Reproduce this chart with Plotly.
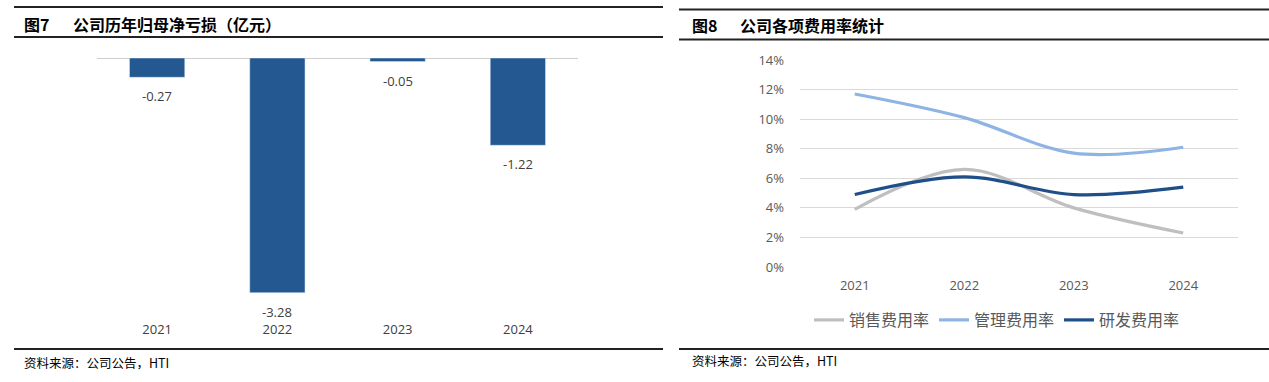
import plotly.graph_objects as go

W, H = 1269, 382

# ---- data ----
years = ["2021", "2022", "2023", "2024"]
net_loss = [-0.27, -3.28, -0.05, -1.22]
net_loss_labels = ["-0.27", "-3.28", "-0.05", "-1.22"]

sales_rate = [3.9, 6.6, 4.0, 2.3]
admin_rate = [11.7, 10.1, 7.7, 8.1]
rd_rate = [4.9, 6.1, 4.9, 5.4]
rate_ticks = [0, 2, 4, 6, 8, 10, 12, 14]
rate_tick_labels = ["0%", "2%", "4%", "6%", "8%", "10%", "12%", "14%"]

FONT = "Noto Sans CJK SC"
NUMFONT = "Open Sans"
def px(x):
    return x / W
def py(y):
    return 1 - y / H

fig = go.Figure()

# ---- left: bars ----
fig.add_trace(go.Bar(
    x=years, y=net_loss, marker_color="#245891", width=0.46,
    xaxis="x", yaxis="y", showlegend=False, hoverinfo="skip",
))

# ---- right: lines ----
fig.add_trace(go.Scatter(x=years, y=sales_rate, mode="lines", name="销售费用率",
                         line=dict(color="#BFBFBF", width=3.2, shape="spline", smoothing=1.0),
                         xaxis="x2", yaxis="y2"))
fig.add_trace(go.Scatter(x=years, y=admin_rate, mode="lines", name="管理费用率",
                         line=dict(color="#8EB4E3", width=3.2, shape="spline", smoothing=1.0),
                         xaxis="x2", yaxis="y2"))
fig.add_trace(go.Scatter(x=years, y=rd_rate, mode="lines", name="研发费用率",
                         line=dict(color="#1F4E89", width=3.2, shape="spline", smoothing=1.0),
                         xaxis="x2", yaxis="y2"))

# left axis geometry: zero at y=58 px, -3.28 at y=292.7 px
zero_px, bottom_px = 58, 313
scale = (292.7 - 58) / 3.28
ymin = -(bottom_px - zero_px) / scale

annotations = []
for i, (v, lab) in enumerate(zip(net_loss, net_loss_labels)):
    annotations.append(dict(x=i, y=v, xref="x", yref="y", text=lab, showarrow=False,
                            yanchor="top", yshift=-8,
                            font=dict(family=NUMFONT, size=13, color="#404040")))

# titles
annotations += [
    dict(x=px(22), y=py(24), xref="paper", yref="paper", xanchor="left", yanchor="middle",
         text="<b>图7</b>", showarrow=False, font=dict(family=FONT, size=16, color="#000000")),
    dict(x=px(71), y=py(24), xref="paper", yref="paper", xanchor="left", yanchor="middle",
         text="<b>公司历年归母净亏损（亿元）</b>", showarrow=False,
         font=dict(family=FONT, size=16, color="#000000")),
    dict(x=px(690), y=py(25), xref="paper", yref="paper", xanchor="left", yanchor="middle",
         text="<b>图8</b>", showarrow=False, font=dict(family=FONT, size=16, color="#000000")),
    dict(x=px(738), y=py(25), xref="paper", yref="paper", xanchor="left", yanchor="middle",
         text="<b>公司各项费用率统计</b>", showarrow=False,
         font=dict(family=FONT, size=16, color="#000000")),
    dict(x=px(22), y=py(362), xref="paper", yref="paper", xanchor="left", yanchor="middle",
         text="资料来源：公司公告，HTI", showarrow=False,
         font=dict(family=FONT, size=12.5, color="#000000")),
    dict(x=px(690), y=py(360), xref="paper", yref="paper", xanchor="left", yanchor="middle",
         text="资料来源：公司公告，HTI", showarrow=False,
         font=dict(family=FONT, size=12.5, color="#000000")),
]

line_black = dict(color="#222222", width=2)
shapes = [
    dict(type="line", xref="paper", yref="paper", x0=px(14), x1=px(663), y0=py(7), y1=py(7), line=line_black),
    dict(type="line", xref="paper", yref="paper", x0=px(14), x1=px(663), y0=py(37), y1=py(37), line=line_black),
    dict(type="line", xref="paper", yref="paper", x0=px(14), x1=px(663), y0=py(349), y1=py(349), line=line_black),
    dict(type="line", xref="paper", yref="paper", x0=px(679), x1=px(1269), y0=py(9.5), y1=py(9.5), line=line_black),
    dict(type="line", xref="paper", yref="paper", x0=px(679), x1=px(1269), y0=py(39.5), y1=py(39.5), line=line_black),
    dict(type="line", xref="paper", yref="paper", x0=px(679), x1=px(1269), y0=py(349), y1=py(349), line=line_black),
    # zero line of bar chart
    dict(type="line", xref="x domain", yref="y", x0=0, x1=1, y0=0, y1=0,
         line=dict(color="#BFBFBF", width=1.5), layer="below"),
]

fig.update_layout(
    width=W, height=H,
    margin=dict(l=0, r=0, t=0, b=0, pad=0, autoexpand=False),
    paper_bgcolor="white", plot_bgcolor="white",
    font=dict(family=FONT, color="#595959"),
    xaxis=dict(domain=[px(97), px(578)], type="category", range=[-0.5, 3.5],
               showgrid=False, showline=False, automargin=False,
               ticks="", tickfont=dict(family=NUMFONT, size=13, color="#404040"),
               anchor="y", fixedrange=True, ticklabelstandoff=7),
    yaxis=dict(domain=[py(bottom_px), py(zero_px)], range=[ymin, 0], visible=False,
               automargin=False, anchor="x", fixedrange=True),
    xaxis2=dict(domain=[px(800), px(1238)], type="category", showgrid=False, showline=False,
                ticks="", tickfont=dict(family=NUMFONT, size=13, color="#595959"),
                anchor="y2", range=[-0.5, 3.5], automargin=False, ticklabelstandoff=9),
    yaxis2=dict(domain=[py(267), py(60)], range=[0, 14], tickvals=rate_ticks,
                ticktext=rate_tick_labels, showgrid=True, gridcolor="#D9D9D9", gridwidth=1,
                zeroline=False, showline=False, ticks="", automargin=False,
                tickfont=dict(family=NUMFONT, size=13, color="#595959"),
                anchor="x2", ticklabelstandoff=15),
    legend=dict(orientation="h", x=px(997), xanchor="center", y=py(320), yanchor="middle",
                font=dict(family=FONT, size=16, color="#595959"), itemwidth=30,
                bgcolor="rgba(0,0,0,0)", tracegroupgap=0),
    annotations=annotations,
    shapes=shapes,
    bargap=0.54,
)

fig.write_html("out.html", config={"displayModeBar": False},
               post_script="document.body.style.margin='0';")
